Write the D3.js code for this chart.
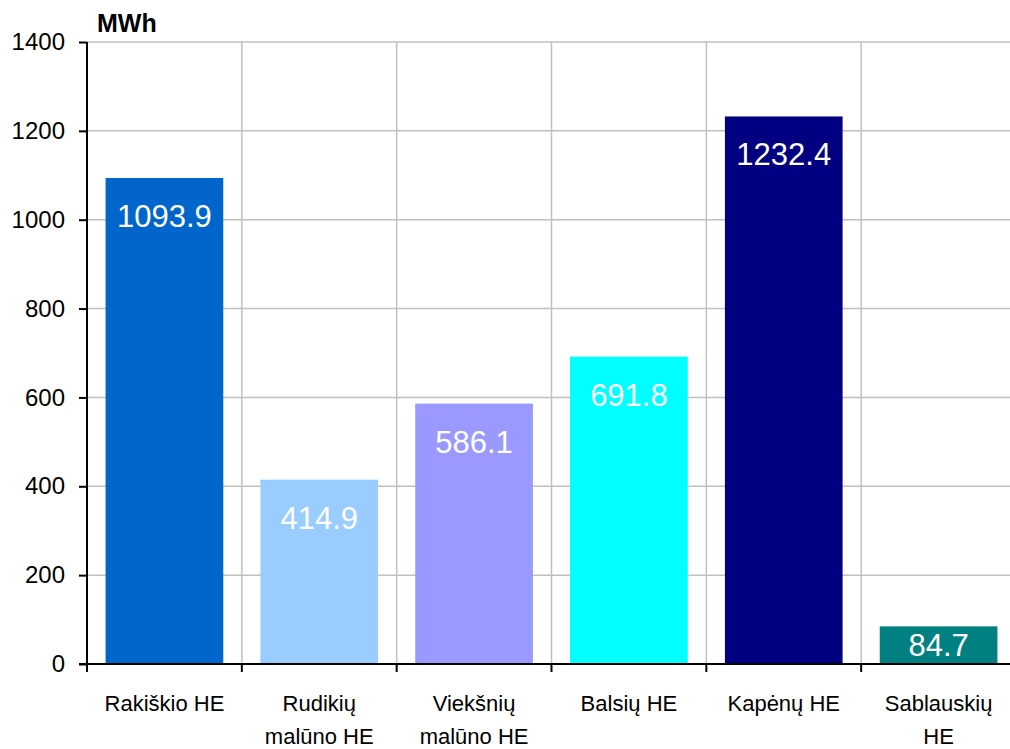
<!DOCTYPE html>
<html>
<head>
<meta charset="utf-8">
<script src="https://cdn.jsdelivr.net/npm/d3@7"></script>
<style>
  body { margin: 0; background: #fff; overflow: hidden; }
  text { font-family: "Liberation Sans", Arial, sans-serif; }
</style>
</head>
<body>
<script>
// data
const plants = [["Rakiškio HE"], ["Rudikių", "malūno HE"], ["Viekšnių", "malūno HE"], ["Balsių HE"], ["Kapėnų HE"], ["Sablauskių", "HE"]];
const output = [1093.9, 414.9, 586.1, 691.8, 1232.4, 84.7];
const barColors = ["#0066cc", "#99ccff", "#9999ff", "#00ffff", "#000080", "#008080"];
const yTicks = [0, 200, 400, 600, 800, 1000, 1200, 1400];

const W = 1010, H = 749;
const margin = {top: 42, right: -6, bottom: 85, left: 87};
const width = W - margin.left - margin.right,
  height = H - margin.top - margin.bottom;

const svg = d3.select("body").append("svg")
  .attr("width", W).attr("height", H);
const g = svg.append("g").attr("transform", `translate(${margin.left},${margin.top})`);

const keys = plants.map(p => p.join(" "));
const x = d3.scaleBand().domain(keys).range([0, width]).paddingInner(0.24).paddingOuter(0.12);
const y = d3.scaleLinear().domain([0, 1400]).range([height, 0]);
const step = x.step();

// horizontal grid
g.selectAll(".hgrid").data(yTicks.slice(1)).join("line")
  .attr("x1", 0).attr("x2", width)
  .attr("y1", d => y(d)).attr("y2", d => y(d))
  .attr("stroke", "#c0c0c0").attr("stroke-width", 1.5);

// vertical grid at category boundaries
g.selectAll(".vgrid").data(d3.range(1, keys.length + 1)).join("line")
  .attr("x1", d => d * step).attr("x2", d => d * step)
  .attr("y1", 0).attr("y2", height)
  .attr("stroke", "#c0c0c0").attr("stroke-width", 1.5);

// bars
g.selectAll(".bar").data(output).join("rect")
  .attr("x", (d, i) => x(keys[i]))
  .attr("y", d => y(d))
  .attr("width", x.bandwidth())
  .attr("height", d => y(0) - y(d))
  .attr("fill", (d, i) => barColors[i]);

// value labels
g.selectAll(".val").data(output).join("text")
  .attr("x", (d, i) => x(keys[i]) + x.bandwidth() / 2)
  .attr("y", d => Math.min(y(d) + 49, y(0) - 8))
  .attr("text-anchor", "middle")
  .attr("fill", "#fff")
  .attr("font-size", 31)
  .text(d => d.toFixed(1));

// y axis
const yAxis = g.append("g")
  .call(d3.axisLeft(y).tickValues(yTicks).tickSize(8).tickPadding(14).tickFormat(d3.format("d")));
yAxis.select(".domain").attr("stroke", "#000").attr("stroke-width", 2).attr("d", `M0,${height}V0`);
yAxis.selectAll(".tick line").attr("stroke", "#000").attr("stroke-width", 2);
yAxis.selectAll(".tick text").attr("font-size", 24).attr("fill", "#000").attr("font-family", "Liberation Sans, Arial, sans-serif");

// x axis
const xAxis = g.append("g").attr("transform", `translate(0,${height})`);
xAxis.append("line").attr("x1", -8).attr("x2", width).attr("stroke", "#000").attr("stroke-width", 2);
xAxis.selectAll(".xt").data(d3.range(0, keys.length + 1)).join("line")
  .attr("x1", d => d * step).attr("x2", d => d * step)
  .attr("y1", 0).attr("y2", 8)
  .attr("stroke", "#000").attr("stroke-width", 2);
xAxis.selectAll(".xl").data(plants).join("text")
  .attr("text-anchor", "middle")
  .attr("font-size", 22)
  .attr("fill", "#000")
  .attr("transform", (d, i) => `translate(${x(keys[i]) + x.bandwidth() / 2},0)`)
  .each(function(d) {
    d3.select(this).selectAll("tspan").data(d).join("tspan")
      .attr("x", 0).attr("y", (t, j) => 47 + j * 33)
      .text(t => t);
  });

// unit label
svg.append("text").attr("x", 97).attr("y", 32)
  .attr("font-size", 25).attr("font-weight", "bold").text("MWh");
</script>
</body>
</html>
